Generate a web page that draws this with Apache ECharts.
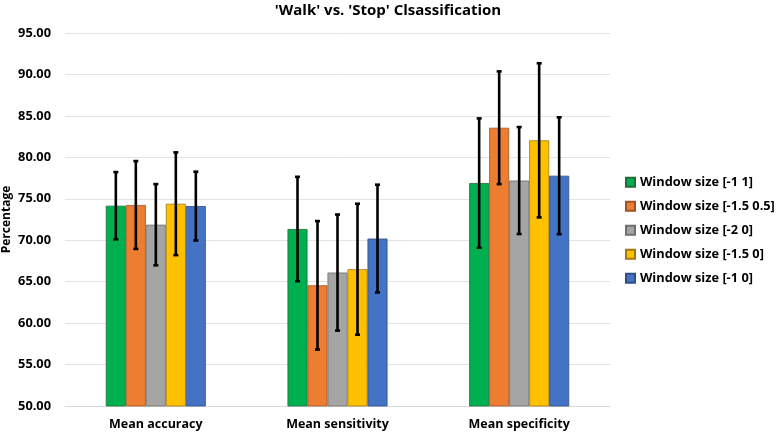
<!DOCTYPE html>
<html>
<head>
<meta charset="utf-8">
<script src="https://cdn.jsdelivr.net/npm/echarts@6/dist/echarts.min.js"></script>
<style>
  html, body { margin: 0; padding: 0; background: #fff; }
  #chart { width: 776px; height: 434px; }
</style>
</head>
<body>
<div id="chart"></div>
<script>
var categories = ['Mean accuracy', 'Mean sensitivity', 'Mean specificity'];
var seriesNames = ['Window size [-1 1]', 'Window size [-1.5 0.5]', 'Window size [-2 0]', 'Window size [-1.5 0]', 'Window size [-1 0]'];
var colors = ['#00B050', '#ED7D31', '#A5A5A5', '#FFC000', '#4472C4'];
var borders = ['#1f6b3a', '#9c5424', '#6f6f6f', '#a07a10', '#2f4f88'];

// mean values per window size (accuracy, sensitivity, specificity)
var w11 = [74.16, 71.35, 76.90];
var w1505 = [74.25, 64.56, 83.57];
var w20 = [71.87, 66.10, 77.20];
var w150 = [74.40, 66.50, 82.05];
var w10 = [74.12, 70.20, 77.78];
var means = [w11, w1505, w20, w150, w10];

// standard deviations (error bar half-lengths)
var sd11 = [4.06, 6.30, 7.80];
var sd1505 = [5.30, 7.75, 6.80];
var sd20 = [4.90, 7.00, 6.45];
var sd150 = [6.20, 7.90, 9.30];
var sd10 = [4.15, 6.50, 7.05];
var sds = [sd11, sd1505, sd20, sd150, sd10];

var yTicks = [50, 55, 60, 65, 70, 75, 80, 85, 90, 95];

var barW = 20;
var font = '"Open Sans", Lato, sans-serif';

var errData = [];
for (var s = 0; s < means.length; s++) {
  for (var c = 0; c < categories.length; c++) {
    errData.push([c, s, means[s][c] - sds[s][c], means[s][c] + sds[s][c]]);
  }
}

var series = seriesNames.map(function (name, i) {
  return {
    name: name,
    type: 'bar',
    data: means[i],
    barWidth: barW,
    barGap: '0%',
    itemStyle: { color: colors[i], borderColor: borders[i], borderWidth: 0.8 },
    z: 2
  };
});

series.push({
  type: 'custom',
  name: 'err',
  data: errData,
  z: 5,
  silent: true,
  renderItem: function (params, api) {
    var c = api.value(0), s = api.value(1);
    var lo = api.coord([c, api.value(2)]);
    var hi = api.coord([c, api.value(3)]);
    var x = lo[0] + (s - 2) * barW;
    var cap = 2.5;
    var st = { stroke: '#000', lineWidth: 2.6 };
    return {
      type: 'group',
      children: [
        { type: 'line', shape: { x1: x, y1: hi[1], x2: x, y2: lo[1] }, style: st },
        { type: 'line', shape: { x1: x - cap, y1: hi[1], x2: x + cap, y2: hi[1] }, style: st },
        { type: 'line', shape: { x1: x - cap, y1: lo[1], x2: x + cap, y2: lo[1] }, style: st }
      ]
    };
  },
  encode: { x: 0, y: [2, 3] }
});

var chart = echarts.init(document.getElementById('chart'));
chart.setOption({
  animation: false,
  title: {
    text: "'Walk' vs. 'Stop' Clsassification",
    left: 'center',
    top: 0,
    padding: [3, 0, 0, 0],
    textStyle: { fontFamily: font, fontSize: 15, fontWeight: 'bold', color: '#000' }
  },
  legend: {
    data: seriesNames,
    orient: 'vertical',
    left: 620,
    top: 170,
    itemWidth: 9,
    itemHeight: 9,
    itemGap: 9.5,
    icon: 'rect',
    textStyle: { fontFamily: font, fontSize: 12.8, fontWeight: 'bold', color: '#000', lineHeight: 14.5 }
  },
  grid: { left: 65, right: 166, top: 33, bottom: 28, containLabel: false, outerBoundsMode: 'none' },
  xAxis: {
    type: 'category',
    data: categories,
    axisTick: { show: false },
    axisLine: { lineStyle: { color: '#d9d9d9', width: 1 } },
    axisLabel: { fontFamily: font, fontSize: 12.5, fontWeight: 'bold', color: '#000', margin: 12 }
  },
  yAxis: {
    type: 'value',
    min: yTicks[0],
    max: yTicks[yTicks.length - 1],
    interval: 5,
    name: 'Percentage',
    nameLocation: 'middle',
    nameGap: 52,
    nameMoveOverlap: false,
    nameRotate: 90,
    nameTextStyle: { fontFamily: font, fontSize: 12, fontWeight: 'bold', color: '#000' },
    axisLine: { show: false },
    axisTick: { show: false },
    axisLabel: {
      fontFamily: font, fontSize: 12.8, fontWeight: 'bold', color: '#000', margin: 14,
      formatter: function (v) { return v.toFixed(2); }
    },
    splitLine: { lineStyle: { color: '#e3e3e3', width: 1 } }
  },
  series: series
});
</script>
</body>
</html>
